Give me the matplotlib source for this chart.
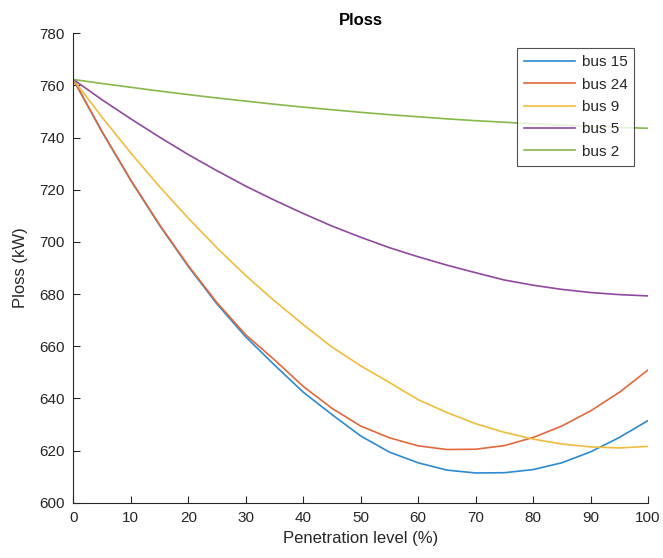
import matplotlib
matplotlib.use("Agg")
import matplotlib.pyplot as plt

# penetration level (%)
level = [0, 5, 10, 15, 20, 25, 30, 35, 40, 45, 50,
         55, 60, 65, 70, 75, 80, 85, 90, 95, 100]

# Ploss (kW)
bus15 = [762.3, 742.2, 723.6, 706.4, 690.6, 676.2, 663.6, 652.8, 642.4, 633.8, 625.6,
         619.4, 615.3, 612.5, 611.4, 611.5, 612.7, 615.3, 619.5, 625.0, 631.5]
bus24 = [762.3, 742.3, 723.7, 706.6, 690.9, 676.7, 664.4, 654.8, 644.6, 636.2, 629.4,
         624.9, 621.8, 620.4, 620.5, 621.9, 625.0, 629.4, 635.2, 642.3, 650.9]
bus9 = [762.3, 747.8, 734.1, 721.2, 709.1, 697.7, 687.1, 677.4, 668.3, 659.7, 652.5,
        646.1, 639.5, 634.6, 630.3, 627.0, 624.4, 622.5, 621.4, 621.0, 621.6]
bus5 = [762.3, 754.5, 747.2, 740.2, 733.5, 727.3, 721.4, 716.0, 710.9, 706.1, 701.8,
        697.8, 694.3, 691.1, 688.2, 685.4, 683.4, 681.8, 680.6, 679.8, 679.3]
bus2 = [762.3, 760.75, 759.3, 757.85, 756.5, 755.2, 754.0, 752.8, 751.7, 750.7, 749.7,
        748.8, 748.0, 747.2, 746.5, 745.9, 745.3, 744.8, 744.3, 743.9, 743.6]

names = ["bus 15", "bus 24", "bus 9", "bus 5", "bus 2"]
colors = ["#2C8AD0", "#E0683A", "#F0BC3C", "#9048A0", "#86B84A"]

plt.rcParams['font.family'] = ['Liberation Sans', 'DejaVu Sans']
axcol = "#262626"

fig = plt.figure(figsize=(6.63, 5.58), dpi=100)
ax = fig.add_axes([0.1106, 0.0991, 0.8668, 0.8412])

for vals, name, c in zip([bus15, bus24, bus9, bus5, bus2], names, colors):
    ax.plot(level, vals, color=c, lw=1.2, label=name)

ax.set_xlim(0, 100)
ax.set_ylim(600, 780)
ax.set_xticks(range(0, 101, 10))
ax.set_yticks(range(600, 781, 20))

ax.spines['top'].set_visible(False)
ax.spines['right'].set_visible(False)
for s in ['left', 'bottom']:
    ax.spines[s].set_color(axcol)
    ax.spines[s].set_linewidth(0.8)
ax.tick_params(direction='in', length=5, width=0.8, colors=axcol, labelsize=11, pad=6)

ax.set_xlabel("Penetration level (%)", fontsize=12, color=axcol, labelpad=4)
ax.set_ylabel("Ploss (kW)", fontsize=12, color=axcol, labelpad=8)
ax.set_title("Ploss", fontsize=12, fontweight='bold', pad=6)

leg = ax.legend(loc='upper right', bbox_to_anchor=(0.976, 0.968), borderaxespad=0,
                fontsize=11, frameon=True, fancybox=False, handlelength=3.4,
                handletextpad=0.4, labelspacing=0.55, borderpad=0.45)
leg.get_frame().set_edgecolor(axcol)
leg.get_frame().set_linewidth(0.8)
for t in leg.get_texts():
    t.set_color(axcol)

fig.savefig("out.png", dpi=100)
